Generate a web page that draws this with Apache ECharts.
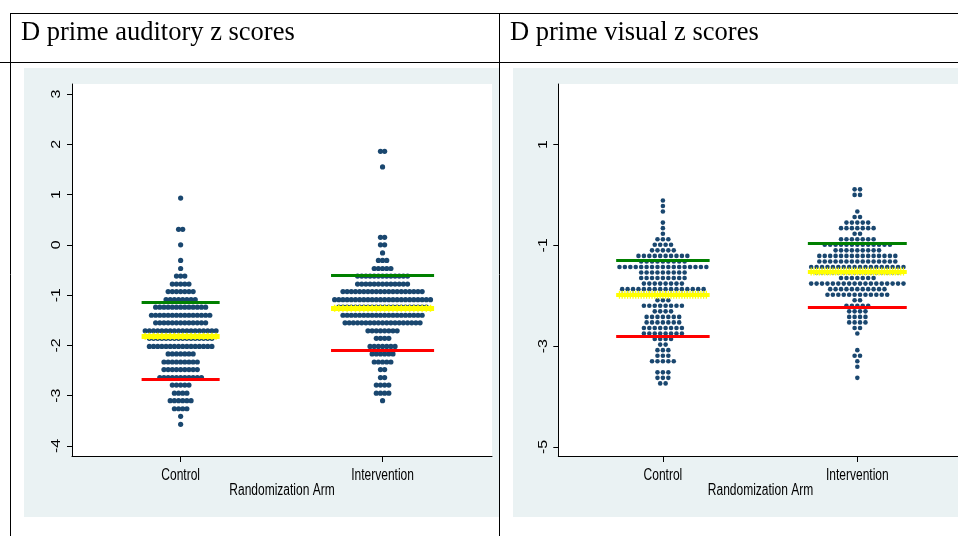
<!DOCTYPE html>
<html>
<head>
<meta charset="utf-8">
<title>D prime z scores</title>
<script src="https://cdn.jsdelivr.net/npm/echarts@6.0.0/dist/echarts.min.js"></script>
<style>
html,body{margin:0;padding:0;background:#ffffff;overflow:hidden;}
#chart{width:958px;height:536px;}
</style>
</head>
<body>
<div id="chart"></div>
<script>
// ---------------- data ----------------
const categories = ['Control', 'Intervention'];
const panelTitles = ['D prime auditory z scores', 'D prime visual z scores'];
const xAxisTitle = 'Randomization Arm';
const audTickLabels = [-4, -3, -2, -1, 0, 1, 2, 3];
const visTickLabels = [-5, -3, -1, 1];

// dot rows: row value (bin centre) and number of dots in the row
const audCtrlY = [0.93, 0.31, 0.00, -0.31, -0.47, -0.62, -0.78, -0.93, -1.09, -1.24, -1.40, -1.55, -1.71, -1.86, -2.02, -2.17, -2.33, -2.48, -2.64, -2.79, -2.95, -3.10, -3.26, -3.41, -3.57];
const audCtrlN = [1, 2, 1, 1, 1, 3, 5, 7, 8, 13, 15, 13, 18, 16, 16, 7, 9, 9, 11, 5, 4, 6, 4, 1, 1];
const audIntY = [1.86, 1.55, 0.15, 0.00, -0.16, -0.31, -0.47, -0.62, -0.78, -0.93, -1.09, -1.24, -1.40, -1.55, -1.71, -1.86, -2.02, -2.17, -2.33, -2.48, -2.64, -2.79, -2.95, -3.10];
const audIntN = [2, 1, 2, 2, 1, 3, 5, 13, 13, 20, 24, 22, 20, 19, 8, 4, 7, 6, 5, 2, 2, 4, 4, 1];
const visCtrlY = [-0.11, -0.22, -0.33, -0.55, -0.66, -0.77, -0.88, -0.99, -1.10, -1.21, -1.32, -1.43, -1.54, -1.65, -1.76, -1.87, -1.98, -2.09, -2.20, -2.31, -2.42, -2.53, -2.64, -2.75, -2.86, -2.97, -3.08, -3.19, -3.30, -3.52, -3.63, -3.74];
const visCtrlN = [1, 1, 1, 1, 1, 1, 3, 4, 5, 10, 9, 17, 9, 9, 8, 16, 16, 3, 8, 4, 7, 7, 8, 8, 4, 2, 3, 3, 5, 3, 3, 2];
const visIntY = [0.11, 0.00, -0.33, -0.44, -0.55, -0.66, -0.77, -0.88, -0.99, -1.10, -1.21, -1.32, -1.43, -1.54, -1.65, -1.76, -1.87, -1.98, -2.09, -2.20, -2.31, -2.42, -2.53, -2.64, -2.75, -3.08, -3.19, -3.30, -3.41, -3.63];
const visIntN = [2, 2, 1, 2, 5, 7, 2, 7, 13, 9, 15, 15, 18, 16, 7, 18, 11, 12, 2, 5, 4, 4, 4, 2, 1, 1, 2, 1, 1, 1];

// summary lines per arm [Control, Intervention]
const audGreen = [-1.14, -0.60];
const audYellow = [-1.82, -1.26];
const audRed = [-2.67, -2.10];
const visGreen = [-1.30, -0.96];
const visYellow = [-1.98, -1.52];
const visRed = [-2.80, -2.23];

// ---------------- layout / style ----------------
const X_MIN = 0.462, X_MAX = 2.542;
const FONT_AXIS = "'Liberation Sans',Arial,Helvetica,sans-serif";
const AXIS_FS = 16, SQUEEZE = 0.75;   // source graphic was squeezed horizontally
const FONT_TITLE = "'Liberation Serif','Times New Roman',serif";
const PLUS = 'path://M3,0H5V2.5H8V5.5H5V8H3V5.5H0V2.5H3Z';
const DOT_COLOR = '#1a476f';
const PANEL_BG = '#eaf2f3';

const panels = [
  { plot: {left: 72, top: 84, width: 420, height: 372}, bg: {x: 24, y: 68, width: 475, height: 449},
    yMin: -4.2, yMax: 3.2, ticks: audTickLabels, step: 0.02064, dot: 5.2, plusStep: 1, yellowWidth: 5, plusSize: [6, 7],
    groups: [[audCtrlY, audCtrlN], [audIntY, audIntN]], green: audGreen, yellow: audYellow, red: audRed,
    title: panelTitles[0], titleX: 21 },
  { plot: {left: 558.3, top: 84, width: 404.4, height: 372}, bg: {x: 513, y: 68, width: 445, height: 449},
    yMin: -5.18, yMax: 2.2, ticks: visTickLabels, step: 0.02793, dot: 4.6, plusStep: 0.5, yellowWidth: 4, plusSize: [5, 8],
    groups: [[visCtrlY, visCtrlN], [visIntY, visIntN]], green: visGreen, yellow: visYellow, red: visRed,
    title: panelTitles[1], titleX: 510 }
];

const grid = [], xAxis = [], yAxis = [], series = [], graphic = [];

function linesSeries(k, data, color, width, z) {
  return { type: 'lines', coordinateSystem: 'cartesian2d', xAxisIndex: k, yAxisIndex: k,
    data: data, silent: true, z: z, animation: false,
    lineStyle: { color: color, width: width, opacity: 1, curveness: 0, cap: 'butt' } };
}

panels.forEach((p, k) => {
  const pxPerUnit = p.plot.width / (X_MAX - X_MIN);
  grid.push({ left: p.plot.left, top: p.plot.top, width: p.plot.width, height: p.plot.height,
    outerBoundsMode: 'none', containLabel: false, show: false });

  xAxis.push({
    gridIndex: k, type: 'value', min: X_MIN, max: X_MAX,
    axisLine: { show: true, onZero: false, lineStyle: { color: '#000', width: 1 } },
    axisTick: { show: true, customValues: [1, 2], length: 6, inside: false, lineStyle: { color: '#000', width: 1 } },
    axisLabel: { show: false }, splitLine: { show: false }, splitArea: { show: false }
  });

  yAxis.push({
    gridIndex: k, type: 'value', min: p.yMin, max: p.yMax,
    axisLine: { show: true, onZero: false, lineStyle: { color: '#000', width: 1 } },
    axisTick: { show: true, customValues: p.ticks, length: 5, inside: false, lineStyle: { color: '#000', width: 1 } },
    axisLabel: { show: false }, splitLine: { show: false }, splitArea: { show: false }
  });

  const dots = [], green = [], red = [], yel = [], plus = [];
  p.groups.forEach(([ys, ns], g) => {
    const c = g + 1;
    ys.forEach((y, r) => {
      const n = ns[r];
      for (let i = 0; i < n; i++) dots.push([c + (i - (n - 1) / 2) * p.step, y]);
    });
    const maxN = Math.max(...ns);
    const hw = ((maxN - 1) * p.step + p.dot / pxPerUnit) / 2 + 1 / pxPerUnit;
    green.push({ coords: [[c - hw, p.green[g]], [c + hw, p.green[g]]] });
    red.push({ coords: [[c - hw, p.red[g]], [c + hw, p.red[g]]] });
    yel.push({ coords: [[c - hw, p.yellow[g]], [c + hw, p.yellow[g]]] });
    const half = (maxN - 1) / 2;
    for (let t = -half; t <= half + 1e-9; t += p.plusStep) plus.push([c + t * p.step, p.yellow[g]]);
  });

  series.push({ type: 'scatter', xAxisIndex: k, yAxisIndex: k, data: dots, symbol: 'circle',
    symbolSize: p.dot, itemStyle: { color: DOT_COLOR, opacity: 1, borderWidth: 0 }, silent: true, z: 2, animation: false });
  series.push(linesSeries(k, green, '#008000', 3, 3));
  series.push(linesSeries(k, red, '#ff0000', 3, 3));
  series.push(linesSeries(k, yel, '#ffff00', p.yellowWidth, 4));
  series.push({ type: 'scatter', xAxisIndex: k, yAxisIndex: k, data: plus, symbol: PLUS,
    symbolSize: p.plusSize, itemStyle: { color: '#ffff00', opacity: 1, borderWidth: 0 }, silent: true, z: 5, animation: false });

  graphic.push({ type: 'rect', silent: true, z: -20, shape: { x: p.bg.x, y: p.bg.y, width: p.bg.width, height: p.bg.height }, style: { fill: PANEL_BG } });
  graphic.push({ type: 'rect', silent: true, z: -19, shape: { x: p.plot.left, y: p.plot.top, width: p.plot.width, height: p.plot.height }, style: { fill: '#ffffff' } });
  graphic.push({ type: 'text', silent: true, z: 50, x: p.titleX, y: 33,
    style: { text: p.title, fill: '#000', fontFamily: FONT_TITLE, fontSize: 26.5,
      align: 'left', textAlign: 'left', verticalAlign: 'middle', textVerticalAlign: 'middle' } });
});

const rules = [
  [10, 13.5, 958, 13.5],
  [0, 62.5, 958, 62.5],
  [10.5, 13, 10.5, 536],
  [499.5, 13, 499.5, 536]
];
rules.forEach(r => graphic.push({ type: 'line', silent: true, z: 60,
  shape: { x1: r[0], y1: r[1], x2: r[2], y2: r[3] }, style: { stroke: '#000', lineWidth: 1 } }));

const chart = echarts.init(document.getElementById('chart'), null, { renderer: 'canvas' });
chart.setOption({
  animation: false,
  backgroundColor: '#ffffff',
  grid: grid, xAxis: xAxis, yAxis: yAxis, series: series,
  graphic: { elements: graphic },
  tooltip: { show: false }
});

// axis labels as text placed through the axes' own scales (squeezed like the source graphic)
function axisText(text, x, y, rot) {
  const s = { text: text, fill: '#000', fontFamily: FONT_AXIS, fontSize: AXIS_FS,
    align: 'center', textAlign: 'center', verticalAlign: 'middle', textVerticalAlign: 'middle' };
  return rot
    ? { type: 'text', silent: true, z: 50, x: x, y: y, rotation: Math.PI / 2, scaleX: 1, scaleY: SQUEEZE, style: s }
    : { type: 'text', silent: true, z: 50, x: x, y: y, scaleX: SQUEEZE, scaleY: 1, style: s };
}
const labelEls = [];
panels.forEach((p, k) => {
  const yBase = p.plot.top + p.plot.height;
  categories.forEach((cat, i) => {
    const px = chart.convertToPixel({ xAxisIndex: k }, i + 1);
    labelEls.push(axisText(cat, px, yBase + 19.5, false));
  });
  labelEls.push(axisText(xAxisTitle, p.plot.left + p.plot.width / 2, yBase + 35, false));
  p.ticks.forEach(v => {
    const py = chart.convertToPixel({ yAxisIndex: k }, v);
    labelEls.push(axisText(String(v), p.plot.left - 15, py, true));
  });
});
chart.setOption({ graphic: { elements: graphic.concat(labelEls) } });
</script>
</body>
</html>
